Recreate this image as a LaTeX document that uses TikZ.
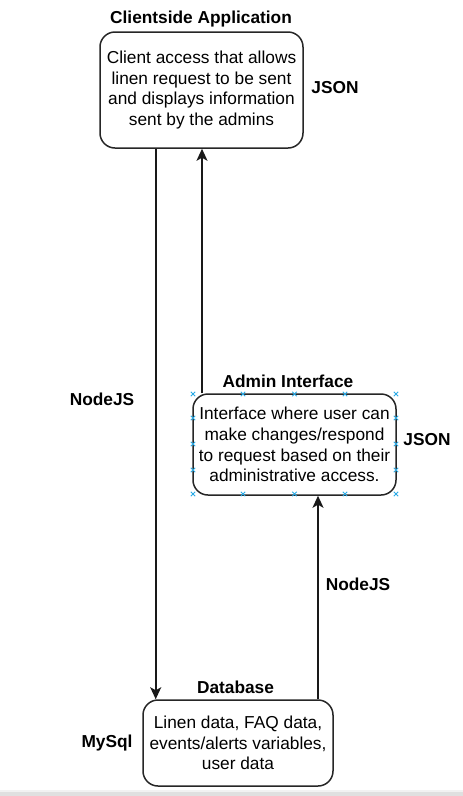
\documentclass[tikz,border=0pt]{standalone}
\usepackage{fontspec}
\setmainfont{Liberation Sans}
\usetikzlibrary{arrows.meta}
\begin{document}
\begin{tikzpicture}[x=1pt,y=-1pt,
  every node/.style={font=\fontsize{17.3}{20.7}\selectfont},
  box/.style={draw=black!85, line width=1.5pt, rounded corners=15pt, align=center, inner sep=0pt},
  title/.style={font=\fontsize{17.3}{20.7}\selectfont\bfseries},
  arr/.style={draw=black!90, line width=1.6pt, -{Stealth[length=12pt,width=11pt,inset=3pt]}},
  handle/.style={draw={rgb,255:red,41;green,170;blue,230}, line width=0.9pt}]
\useasboundingbox (0,0) rectangle (463,796);
\fill[white] (0,0) rectangle (463,796);
\fill[black!5] (0,790) rectangle (463,792);
\fill[black!12] (0,792) rectangle (463,796);

\node[box, minimum width=203pt, minimum height=116pt] (client) at (201.5,90)
  {Client access that allows\\linen request to be sent\\and displays information\\sent by the admins};
\node[title] (clienttitle) at (201,19) {Clientside Application};
\node[title] (json1) at (335,88) {JSON};

\node[box, minimum width=203pt, minimum height=101pt] (admin) at (294.5,444.5)
  {Interface where user can\\make changes/respond\\to request based on their\\administrative access.};
\node[title] (admintitle) at (288,381) {Admin Interface};
\node[title] (json2) at (427,440) {JSON};

\node[box, minimum width=190pt, minimum height=86pt] (db) at (238,743)
  {Linen data, FAQ data,\\events/alerts variables,\\user data};
\node[title] (dbtitle) at (235.5,687) {Database};
\node[title] (mysql) at (107,743) {MySql};

\node[title] (node1) at (102,399) {NodeJS};
\node[title] (node2) at (358,584) {NodeJS};

\draw[arr] (client.south -| 155.7,0) -- (db.north -| 155.7,0);
\draw[arr] (admin.north -| 202,0) -- (client.south -| 202,0);
\draw[arr] (db.north -| 318,0) -- (admin.south -| 318,0);

\foreach \px in {193,243,294.5,345,396} {
  \foreach \py in {394,494} {
    \draw[handle] (\px-2.2,\py-2.2) -- (\px+2.2,\py+2.2) (\px-2.2,\py+2.2) -- (\px+2.2,\py-2.2);
  }
}
\foreach \px in {193,396} {
  \foreach \py in {418,444,470} {
    \draw[handle] (\px-2.2,\py-2.2) -- (\px+2.2,\py+2.2) (\px-2.2,\py+2.2) -- (\px+2.2,\py-2.2);
  }
}
\end{tikzpicture}
\end{document}
